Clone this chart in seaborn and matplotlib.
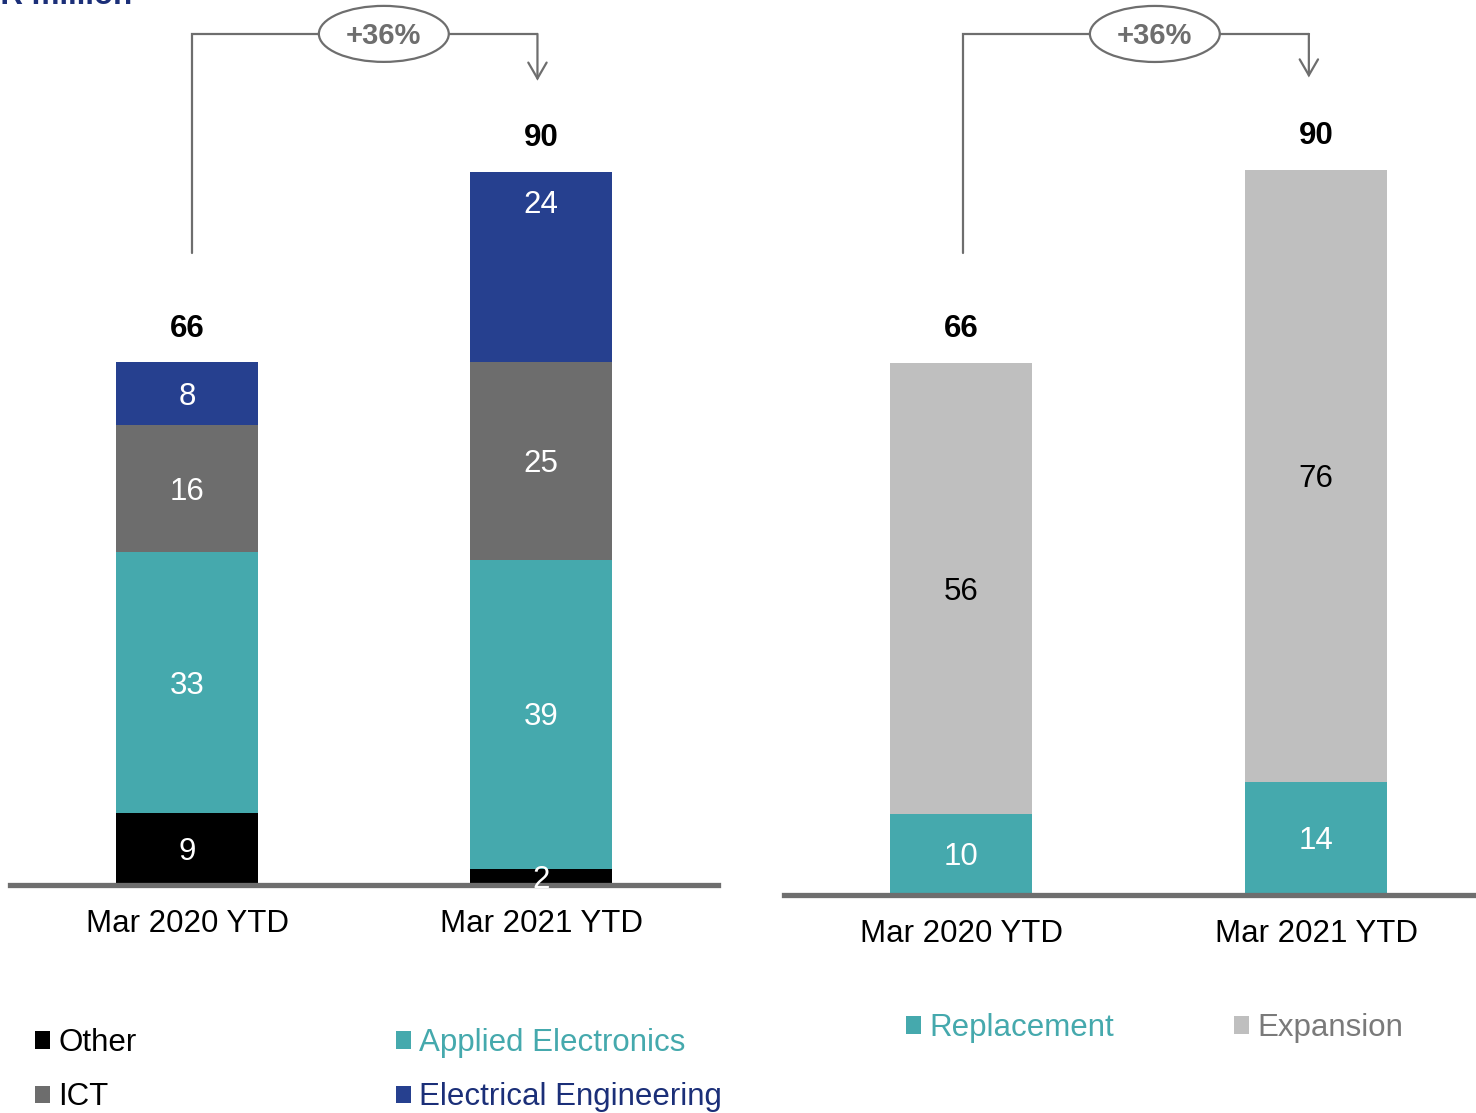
import matplotlib
matplotlib.use("Agg")
import numpy as np
import matplotlib.pyplot as plt
from matplotlib.patches import Ellipse, Patch
import seaborn as sns

periods = ["Mar 2020 YTD", "Mar 2021 YTD"]

# left panel: by segment, bottom to top
segments = ["Other", "Applied Electronics", "ICT", "Electrical Engineering"]
other = [9, 2]
applied = [33, 39]
ict = [16, 25]
electrical = [8, 24]
segment_totals = [66, 90]

# right panel: by investment type, bottom to top
types = ["Replacement", "Expansion"]
replacement = [10, 14]
expansion = [56, 76]
type_totals = [66, 90]

growth_label = "+36%"
unit_title = "EUR million"

BLACK = "#000000"
TEAL = "#45a9ad"
GRAY = "#6d6d6d"
NAVY = "#26408f"
LIGHT = "#bfbfbf"
NAVY_TEXT = "#1b2f78"
LINE = "#6e6e6e"

sns.set_theme(style="white")
plt.rcParams['font.family'] = ['Liberation Sans', 'DejaVu Sans']
FS = 22.5

W, H = 1476, 1113
fig = plt.figure(figsize=(W / 100, H / 100), dpi=100)


def draw_stack(ax, layers, colors, text_colors, label_frac=None):
    # label_frac: optional {(layer, bar): fraction of segment height} for labels not centred
    label_frac = label_frac or {}
    layers = np.array(layers, dtype=float)
    cum = np.cumsum(layers, axis=0)
    # draw cumulative heights from the top down so lower layers cover upper ones
    for i in reversed(range(len(layers))):
        sns.barplot(x=periods, y=cum[i], color=colors[i], width=0.4, saturation=1,
                    linewidth=0, errorbar=None, ax=ax)
    for i in range(len(layers)):
        for j in range(len(periods)):
            frac = label_frac.get((i, j), 0.5)
            y = cum[i][j] - layers[i][j] * (1 - frac) - 0.4
            ax.text(j, y, f"{layers[i][j]:g}", ha="center", va="center",
                    color=text_colors[i], fontsize=FS, zorder=5)
    return cum[-1]


def style_axis(ax, ymax, xmax):
    ax.set_xlim(-0.5, xmax)
    ax.set_ylim(0, ymax)
    ax.set_xlabel("")
    ax.set_ylabel("")
    ax.set_yticks([])
    for s in ["top", "left", "right"]:
        ax.spines[s].set_visible(False)
    ax.spines["bottom"].set_color(LINE)
    ax.spines["bottom"].set_linewidth(3.8)
    ax.spines["bottom"].set_zorder(4)
    ax.tick_params(axis="x", length=0, pad=18, labelsize=FS, labelcolor=BLACK)


def draw_totals(ax, totals):
    for j, t in enumerate(totals):
        ax.text(j, t + 4.2, f"{t:g}", ha="center", va="center", fontsize=FS,
                fontweight="bold", color=BLACK)


def draw_bracket(ax, totals, top, xl, xr, ell_x, ell_w, ell_h):
    ax.plot([xl, xl, xr], [totals[0] + 13.7, top, top], color=LINE, lw=1.6,
            solid_joinstyle="miter", clip_on=False, zorder=2)
    ax.annotate("", xy=(xr, totals[1] + 11.5), xytext=(xr, top),
                arrowprops=dict(arrowstyle="->,head_length=0.95,head_width=0.55",
                                color=LINE, lw=1.6, shrinkA=0, shrinkB=0,
                                joinstyle="miter"),
                annotation_clip=False)
    ax.add_patch(Ellipse((ell_x, top), ell_w, ell_h, facecolor="white",
                         edgecolor=LINE, lw=1.6, zorder=3, clip_on=False))
    ax.text(ell_x, top - 0.3, growth_label, ha="center", va="center", fontsize=21,
            fontweight="bold", color=LINE, zorder=4)


# ---- left panel ----
base_l = 884.5
ax1 = fig.add_axes([10 / W, (H - base_l) / H, 708 / W, base_l / H])
draw_stack(ax1, [other, applied, ict, electrical], [BLACK, TEAL, GRAY, NAVY],
           ["white", "white", "white", "white"], label_frac={(3, 1): 0.84})
style_axis(ax1, base_l / 7.92, 1.5)
draw_totals(ax1, segment_totals)
draw_bracket(ax1, segment_totals, 107.4, 0.014, 0.99, 0.556, 0.367, 7.07)

# ---- right panel ----
base_r = 894.5
ax2 = fig.add_axes([784 / W, (H - base_r) / H, 692 / W, base_r / H])
draw_stack(ax2, [replacement, expansion], [TEAL, LIGHT], ["white", BLACK])
style_axis(ax2, base_r / 8.05, 1.45)
draw_totals(ax2, type_totals)
draw_bracket(ax2, type_totals, 106.9, 0.005, 0.979, 0.545, 0.366, 6.96)

# ---- legends ----
left_handles = [Patch(facecolor=c, edgecolor="none") for c in [BLACK, GRAY, TEAL, NAVY]]
left_labels = ["Other", "ICT", "Applied Electronics", "Electrical Engineering"]
fig.legend(left_handles, left_labels, loc="upper left",
           bbox_to_anchor=(35 / W, 1 - 1028 / H), ncol=2, frameon=False,
           fontsize=FS, handlelength=0.48, handleheight=0.48, handletextpad=0.26,
           columnspacing=8.3, labelspacing=0.78, borderpad=0, borderaxespad=0,
           labelcolor=[BLACK, BLACK, TEAL, NAVY_TEXT])

right_handles = [Patch(facecolor=c, edgecolor="none") for c in [TEAL, LIGHT]]
fig.legend(right_handles, types, loc="upper left",
           bbox_to_anchor=(906 / W, 1 - 1013 / H), ncol=2, frameon=False,
           fontsize=FS, handlelength=0.48, handleheight=0.48, handletextpad=0.26,
           columnspacing=3.85, borderpad=0, borderaxespad=0,
           labelcolor=[TEAL, "#7a7a7a"])

# unit title, cut off at the top edge as in the source slide
fig.text(-43 / W, 1 - 4 / H, unit_title, ha="left", va="baseline", fontsize=FS,
         fontweight="bold", color=NAVY_TEXT)

fig.savefig("out.png", dpi=100)
